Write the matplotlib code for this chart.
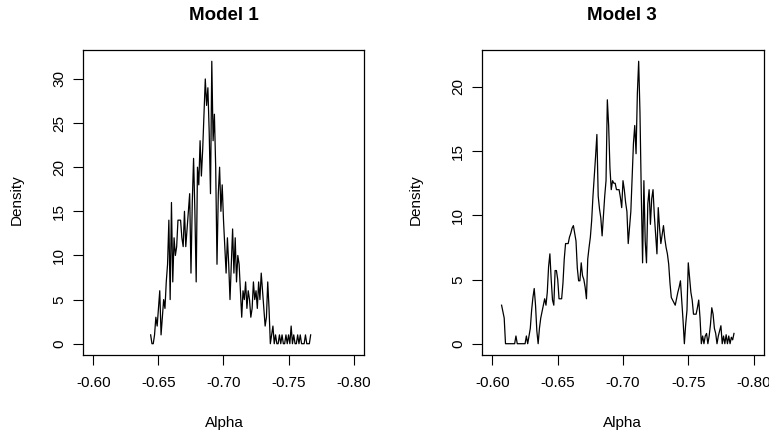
import numpy as np
import matplotlib
matplotlib.use("Agg")
import matplotlib.pyplot as plt

plt.rcParams['font.family'] = ['Liberation Sans', 'DejaVu Sans']

# ---- DATA (density of Alpha)
titles = ["Model 1", "Model 3"]

alpha1_start = -0.644
alpha_step   = -0.001
dens1 = [1, 0, 0, 1, 3, 2, 4, 6, 1, 3,
         5, 4, 7, 9, 14, 5, 16, 7, 12, 10,
         11, 14, 14, 14, 12, 11, 15, 11, 13, 15,
         17, 8, 16, 21, 15, 7, 20, 18, 23, 19,
         22, 26, 30, 27, 29, 24, 17, 32, 23, 26,
         20, 9, 17, 20, 15, 18, 14, 11, 8, 12,
         9, 5, 9, 13, 8, 12, 7, 10, 9, 6,
         3, 6, 5, 7, 4, 6, 5, 3, 4, 7,
         5, 6, 4, 7, 5, 8, 6, 4, 2, 3,
         7, 4, 0, 1, 2, 0, 1, 0, 0, 1,
         0, 1, 0, 0, 1, 0, 1, 0, 2, 0,
         1, 0, 0, 1, 0, 1, 0, 0, 0, 1,
         0, 0, 0, 1]

alpha3_start = -0.607
dens3 = [3, 2.5, 2, 0, 0, 0, 0, 0, 0, 0,
         0, 0.6, 0, 0, 0, 0, 0, 0, 0, 0.6,
         0, 0.6, 1.2, 2.6, 3.6, 4.3, 3, 1, 0, 1.2,
         2, 2.5, 3, 3.5, 3, 4, 6, 7, 5, 3.4,
         3, 5.7, 5.7, 5, 3.5, 3.5, 3.5, 4.7, 6.6, 7.8,
         7.8, 7.8, 8.3, 8.6, 9, 9.2, 8.6, 8, 5.9, 4.9,
         4.9, 6.3, 5.3, 5, 4.4, 3.5, 6.6, 7.5, 8.3, 9.6,
         11.5, 13, 14.6, 16.3, 11.5, 10.5, 9.8, 8.4, 10, 11.5,
         12.7, 19, 17, 13.7, 12, 12.7, 12.5, 12.5, 12, 12,
         12, 11.4, 10.6, 12.7, 12, 11, 10.3, 7.8, 9, 10.3,
         13, 15.6, 17, 14.8, 19.5, 22, 18, 11.7, 6.3, 12.7,
         8, 6.3, 10.9, 12, 9.3, 11.3, 12, 10, 8.5, 7,
         10.6, 9, 7.8, 8.5, 9.2, 8.2, 7.5, 7, 6.2, 4.7,
         3.6, 3.4, 3.2, 3, 3.5, 4, 4.4, 4.9, 3.4, 1.8,
         0, 1.5, 2.6, 6.3, 5.1, 4, 3.4, 2.3, 2.3, 2.3,
         2.8, 3.4, 2, 0, 0.6, 0, 0.6, 0.8, 0, 0.6,
         1.5, 2.8, 2.3, 1.2, 0.8, 0, 0.6, 1, 1.4, 0,
         0.6, 0, 0.7, 0, 0.6, 0, 0.5, 0.3, 0.8]

xticks   = [-0.60, -0.65, -0.70, -0.75, -0.80]
yticks1  = [0, 5, 10, 15, 20, 25, 30]
yticks3  = [0, 5, 10, 15, 20]

# -----------------------------------------------------
W, H = 769, 436
fig = plt.figure(figsize=(W / 100, H / 100), dpi=100)

def px_axes(left, top, right, bottom):
    return fig.add_axes([left / W, 1 - bottom / H, (right - left) / W, (bottom - top) / H])

ax1 = px_axes(83, 50, 364, 355)
ax3 = px_axes(482, 50, 764, 355)

panels = [(ax1, alpha1_start, dens1, yticks1, 83, 224),
          (ax3, alpha3_start, dens3, yticks3, 482, 622)]

fs = 11
for k, (ax, a0, dens, yt, left, xc) in enumerate(panels):
    dens = np.array(dens, dtype=float)
    alpha = a0 + alpha_step * np.arange(len(dens))
    ax.plot(alpha, dens, color="black", linewidth=0.9)

    # R style axis ranges (4% extension)
    ax.set_xlim(-0.6 + 0.008, -0.8 - 0.008)
    top = dens.max()
    ax.set_ylim(-0.04 * top, 1.04 * top)

    ax.set_xticks(xticks)
    ax.set_xticklabels(["%.2f" % v for v in xticks])
    ax.set_yticks(yt)
    ax.set_yticklabels([str(v) for v in yt], rotation=90, va="center")
    ax.tick_params(axis="x", direction="out", length=7, width=0.8, pad=8, labelsize=fs)
    ax.tick_params(axis="y", direction="out", length=7, width=0.8, pad=5, labelsize=fs)
    for s in ax.spines.values():
        s.set_linewidth(0.9)

    fig.text(xc / W, 1 - 423 / H, "Alpha", ha="center", va="center", fontsize=fs)
    fig.text((left - 66) / W, 1 - 200 / H, "Density", ha="center", va="center",
             rotation=90, fontsize=fs)
    fig.text(xc / W, 1 - 16 / H, titles[k], ha="center", va="center",
             fontsize=13.5, fontweight="bold")

plt.savefig("out.png", dpi=100)
